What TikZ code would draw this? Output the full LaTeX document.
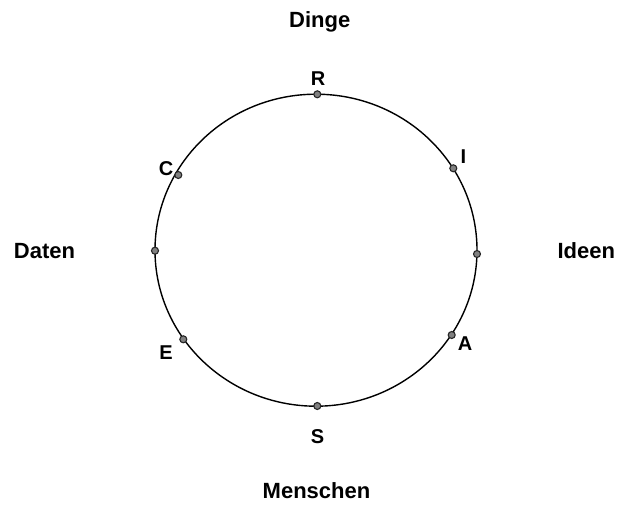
\documentclass[tikz,border=0pt]{standalone}
\usepackage{fontspec}
\setmainfont{Liberation Sans}
\begin{document}
\begin{tikzpicture}[x=1pt,y=1pt,
  dotpt/.style={circle,draw=black!85,fill=black!50,line width=1.1pt,inner sep=0pt,minimum size=7pt},
  lbl/.style={font=\fontsize{20}{24}\selectfont\bfseries,inner sep=0pt},
  big/.style={font=\fontsize{22}{26}\selectfont\bfseries,inner sep=0pt,anchor=base}]
\useasboundingbox (0,0) rectangle (621,504);
\coordinate (ctr) at (316,253.8);
\draw[line width=1.4pt] (ctr) ellipse [x radius=161, y radius=156];
% points on the circle
\node[dotpt] (pR) at (317.3,409.7) {};
\node[dotpt] (pI) at (453.3,335.7) {};
\node[dotpt] (pRt) at (477,250) {};
\node[dotpt] (pA) at (451.7,169) {};
\node[dotpt] (pS) at (317.3,98) {};
\node[dotpt] (pE) at (183.3,164.7) {};
\node[dotpt] (pLt) at (155,253.3) {};
\node[dotpt] (pC) at (178.3,329) {};
% letter labels
\node[lbl] (lR) at (318,425.3) {R};
\node[lbl] (lI) at (463.5,347.3) {I};
\node[lbl] (lA) at (465,160) {A};
\node[lbl] (lS) at (317.5,67) {S};
\node[lbl] (lE) at (166,151) {E};
\node[lbl] (lC) at (166,335) {C};
% outer labels
\node[big] (dinge) at (319.8,476.5) {Dinge};
\node[big] (ideen) at (586.3,245) {Ideen};
\node[big] (daten) at (44.5,245) {Daten};
\node[big] (menschen) at (316.5,6) {Menschen};
\end{tikzpicture}
\end{document}
